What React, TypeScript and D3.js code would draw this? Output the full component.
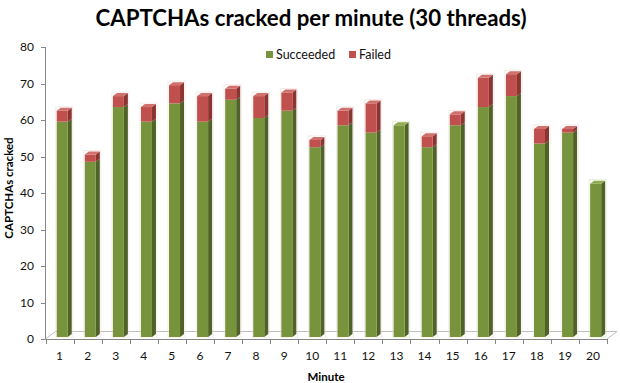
import React from "react";
import * as d3 from "d3";

const minutes = ["1","2","3","4","5","6","7","8","9","10","11","12","13","14","15","16","17","18","19","20"];
const succeeded = [59,48,63,59,64,59,65,60,62,52,58,56,58,52,58,63,66,53,56,42];
const failed = [3,2,3,4,5,7,3,6,5,2,4,8,0,3,3,8,6,4,1,0];
const yTicks = [0,10,20,30,40,50,60,70,80];
const seriesNames = ["Succeeded","Failed"];

const W = 620, H = 383;
const FONT = "Lato, 'Open Sans', sans-serif";

const colors = {
  Succeeded: { front: "#77933C", side: "#4F6228", top: "#8FAD4F" },
  Failed: { front: "#C0504D", side: "#8C3431", top: "#D0716E" },
};

export default function App() {
  const x = d3.scaleBand<string>().domain(minutes).range([45.5, 607]).padding(0);
  const y = d3.scaleLinear().domain([0, 80]).range([339, 47]);
  const bw = x.bandwidth();
  const fw = 11; // front width
  const dx = 4, dy = 3; // 3D depth
  const lift = 2;
  const floorDx = 10, floorDy = 7.5;
  const y0 = y(0);

  const box = (key: string, xf: number, yTop: number, yBot: number, c: { front: string; side: string; top: string }, cap: boolean) => (
    <g key={key}>
      <polygon points={`${xf + fw},${yBot} ${xf + fw + dx},${yBot - dy} ${xf + fw + dx},${yTop - dy} ${xf + fw},${yTop}`} fill={c.side} />
      <rect x={xf} y={yTop} width={fw} height={yBot - yTop} fill={c.front} />
      {cap && <polygon points={`${xf},${yTop} ${xf + dx},${yTop - dy} ${xf + fw + dx},${yTop - dy} ${xf + fw},${yTop}`} fill={c.top} />}
    </g>
  );

  return (
    <svg width={W} height={H} style={{ position: "absolute", left: 0, top: 0, background: "#fff" }} fontFamily={FONT}>
      <rect width={W} height={H} fill="#fff" />
      <text x={311} y={26} textAnchor="middle" fontSize={22} fontWeight="bold" fill="#000" textLength={431} lengthAdjust="spacingAndGlyphs">CAPTCHAs cracked per minute (30 threads)</text>

      {/* floor */}
      <polyline points={`${x.range()[0]},${y0} ${x.range()[0] + floorDx},${y0 - floorDy} ${x.range()[1] + floorDx},${y0 - floorDy} ${x.range()[1]},${y0}`} fill="none" stroke="#BFBFBF" strokeWidth={1} />
      {/* y axis */}
      <line x1={45.5} x2={45.5} y1={y(80)} y2={y0} stroke="#868686" />
      {yTicks.map(t => (
        <g key={t}>
          <line x1={41} x2={45.5} y1={Math.round(y(t)) + 0.5} y2={Math.round(y(t)) + 0.5} stroke="#868686" />
          <text x={34} y={y(t)} dy="0.35em" textAnchor="end" fontSize={12} fill="#111">{t}</text>
        </g>
      ))}
      {/* x axis */}
      <line x1={45.5} x2={607} y1={y0 + 0.5} y2={y0 + 0.5} stroke="#868686" />
      {d3.range(minutes.length + 1).map(i => {
        const xx = Math.round(45.5 + i * bw) + 0.5;
        return <line key={i} x1={xx} x2={xx} y1={y0} y2={y0 + 5} stroke="#868686" />;
      })}
      {minutes.map(m => (
        <text key={m} x={(x(m) as number) + bw / 2} y={356} dy="0.35em" textAnchor="middle" fontSize={12} fill="#111">{m}</text>
      ))}

      {/* bars */}
      {minutes.map((m, i) => {
        const xf = (x(m) as number) + bw * 0.4;
        const s = succeeded[i], f = failed[i];
        const yb = y(0) - lift;
        const ys = y(s) - lift;
        const yt = y(s + f) - lift;
        return (
          <g key={m}>
            <rect x={xf - 1} y={yt - dy - 1} width={fw + dx + 2} height={yb - yt + dy + 1} fill="none" stroke={f > 0 ? "#F2DCDB" : "#D7E4BD"} strokeWidth={1} opacity={0.6} />
            {box("s" + m, xf, ys, yb, colors.Succeeded, f === 0)}
            {f > 0 && box("f" + m, xf, yt, ys, colors.Failed, true)}
          </g>
        );
      })}

      {/* legend */}
      {seriesNames.map((n, i) => {
        const lx = i === 0 ? 266 : 349;
        return (
          <g key={n}>
            <rect x={lx} y={51} width={7} height={7} fill={colors[n as keyof typeof colors].front} />
            <text x={lx + 10} y={54.5} dy="0.35em" fontSize={12.5} fill="#111">{n}</text>
          </g>
        );
      })}

      {/* axis titles */}
      <text transform={`translate(13,188) rotate(-90)`} textAnchor="middle" fontSize={11.5} fontWeight="bold" fill="#000">CAPTCHAs cracked</text>
      <text x={326} y={377} dy="0.35em" textAnchor="middle" fontSize={11.5} fontWeight="bold" fill="#000">Minute</text>
    </svg>
  );
}
